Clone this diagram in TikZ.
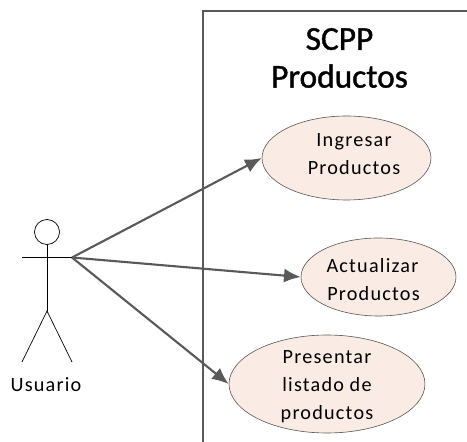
\documentclass[tikz,border=0pt]{standalone}
\usepackage{fontspec}
\setmainfont{Carlito}
\newfontfamily\spacedfont[LetterSpace=6]{Carlito}
\newfontfamily\titlefont[FakeBold=1.2]{Carlito}
\usetikzlibrary{shapes.geometric,positioning,arrows.meta}
\definecolor{casofill}{HTML}{FAECE4}
\definecolor{lineagray}{HTML}{595959}
\tikzset{>={Latex[length=9.5pt,width=8pt]}}
\tikzset{
  casouso/.style={draw=lineagray, ellipse, fill=casofill, inner xsep=0pt, inner ysep=-6pt, line width=0.35pt, align=center, font=\fontsize{11.5}{15.9}\selectfont\spacedfont},
  actorline/.style={black, line width=0.4pt},
  flecha/.style={->, lineagray, line width=1.2pt}
}

\begin{document}
\begin{tikzpicture}[x=0.02cm, y=-0.02cm]
      \useasboundingbox (0,0) rectangle (467,442);
      \coordinate (corner1) at (203,442);
      \coordinate (corner2) at (203,11);
      \coordinate (corner3) at (467,11);
      \draw[lineagray, line width=0.7pt] (corner1) -- (corner2) -- (corner3);
      \node[font=\fontsize{19}{21.5}\selectfont\titlefont, align=center] (titulo) at (339.5,58) {SCPP\\Productos};
      \node[casouso, minimum width=3.38cm, minimum height=1.68cm, text depth=4.5pt] (ingresar) at (346.5,158) {\hspace*{0.3cm}Ingresar\\\hspace*{0.3cm}Productos};
      \node[casouso, minimum width=3.1cm, minimum height=1.56cm] (actualizar) at (378.5,277) {\rule{0pt}{10.5pt}Actualizar\hspace*{0.24cm}\\Productos\hspace*{0.2cm}};
      \node[casouso, minimum width=3.92cm, minimum height=1.96cm] (presentar) at (327,384) {\rule{0pt}{10pt}Presentar\\listado de\\productos};
      % actor
      \node[draw, circle, actorline, minimum size=0.5cm, inner sep=0pt] (cabeza) at (47,232) {};
      \coordinate (cadera) at (47,311);
      \coordinate (manoizq) at (22,257.5);
      \coordinate (manoder) at (72,257.5);
      \coordinate (pieizq) at (22,362);
      \coordinate (pieder) at (72,362);
      \draw[actorline] (cabeza.south) to (cadera);
      \draw[actorline] (manoizq) to (manoder);
      \draw[actorline] (pieizq) to (cadera) to (pieder);
      \node[font=\fontsize{11.5}{12}\selectfont\spacedfont] (usuario) at (46,385) {Usuario};
      \draw[flecha] (manoder) to (ingresar.west);
      \draw[flecha] (manoder) to (actualizar.west);
      \draw[flecha] (manoder) to (presentar.west);
\end{tikzpicture}
\end{document}
